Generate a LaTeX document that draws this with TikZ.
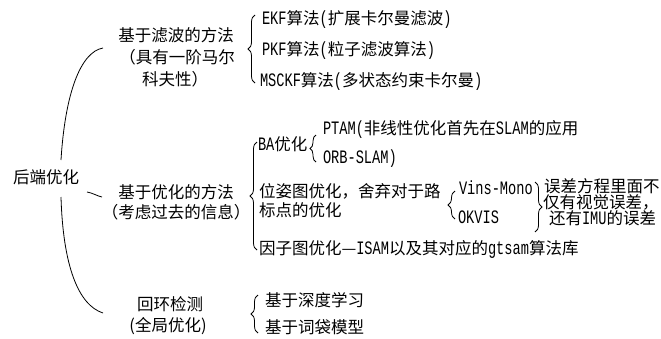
\documentclass[tikz,border=0pt]{standalone}
\usepackage{fontspec}
\setmainfont{Noto Sans CJK SC}
\newfontfamily\latf[Scale=1.15,FakeStretch=0.72]{Liberation Mono}
\newcommand\la[1]{{\latf #1}}
\usetikzlibrary{decorations.pathreplacing}
\begin{document}
\begin{tikzpicture}[x=1pt,y=-1pt,
  every node/.style={inner sep=0pt,outer sep=0pt,font=\fontsize{16.5}{21}\selectfont},
  item/.style={anchor=west},
  grp/.style={anchor=center},
  brc/.style={decorate,decoration={brace,amplitude=#1},line width=0.8pt},
  brc/.default=7pt,
  link/.style={line width=0.8pt}]
\fill[white] (0,0) rectangle (661,338);
\useasboundingbox (0,0) rectangle (661,338);

% root
\node (root) at (46,177) {后端优化};

% group 1
\node[grp] (f1) at (176,35) {基于滤波的方法};
\node[grp] (f2) at (177,57) {（具有一阶马尔};
\node[grp] (f3) at (175,79) {科夫性）};
\node[item] (ekf) at (262,19) {\la{EKF}算法\la{(}扩展卡尔曼滤波\la{)}};
\node[item] (pkf) at (262,50) {\la{PKF}算法\la{(}粒子滤波算法\la{)}};
\node[item] (msc) at (260,81) {\la{MSCKF}算法\la{(}多状态约束卡尔曼\la{)}};
\coordinate (b1t) at (255,15);
\coordinate (b1b) at (255,83);
\draw[brc] (b1b) -- (b1t);

% group 2
\node[grp] (o1) at (176,192) {基于优化的方法};
\node[grp] (o2) at (176,212) {（考虑过去的信息）};
\node[item] (ba) at (258,144) {\la{BA}优化};
\node[item] (ptam) at (323,129) {\la{PTAM(}非线性优化首先在\la{SLAM}的应用};
\node[item] (orb) at (323,159) {\la{ORB-SLAM)}};
\coordinate (bat) at (316,135);
\coordinate (bab) at (316,162);
\draw[brc=6pt] (bab) -- (bat);
\node[item] (pose1) at (259,191) {位姿图优化，舍弃对于路};
\node[item] (pose2) at (259,210) {标点的优化};
\node[item] (vins) at (459,188) {\la{Vins-Mono}};
\node[item] (okvis) at (458,217) {\la{OKVIS}};
\coordinate (bvt) at (455,191);
\coordinate (bvb) at (455,219);
\draw[brc=7pt] (bvb) -- (bvt);
\coordinate (bpt) at (535,182);
\coordinate (bpb) at (535,232);
\draw[brc=7pt] (bpt) -- (bpb);
\node[item] (e1) at (544,186) {误差方程里面不};
\node[item] (e2) at (543,202) {仅有视觉误差，};
\node[item] (e3) at (549,218) {还有\la{IMU}的误差};
\node[item] (fac) at (259,249) {因子图优化—\la{ISAM}以及其对应的\la{gtsam}算法库};
\coordinate (b2t) at (257,142);
\coordinate (b2b) at (257,250);
\draw[brc] (b2b) -- (b2t);

% group 3
\node[grp] (l1) at (170,304) {回环检测};
\node[grp] (l2) at (168,326) {(全局优化)};
\node[item] (deep) at (265,300) {基于深度学习};
\node[item] (bow) at (265,327) {基于词袋模型};
\coordinate (b3t) at (258,295);
\coordinate (b3b) at (258,333);
\draw[brc=7pt] (b3b) -- (b3t);

% main curve
\coordinate (ct) at (103,48);
\coordinate (cu) at (61,160);
\coordinate (cl) at (61,197);
\coordinate (cm0) at (87,192);
\coordinate (cm) at (102,197);
\coordinate (cb) at (103,313);
\draw[link] (ct) .. controls (80,52) and (65,95) .. (cu);
\draw[link] (cl) .. controls (63,265) and (78,305) .. (cb);
\draw[link] (cm0) .. controls (93,193) and (97,196) .. (cm);
\end{tikzpicture}
\end{document}
